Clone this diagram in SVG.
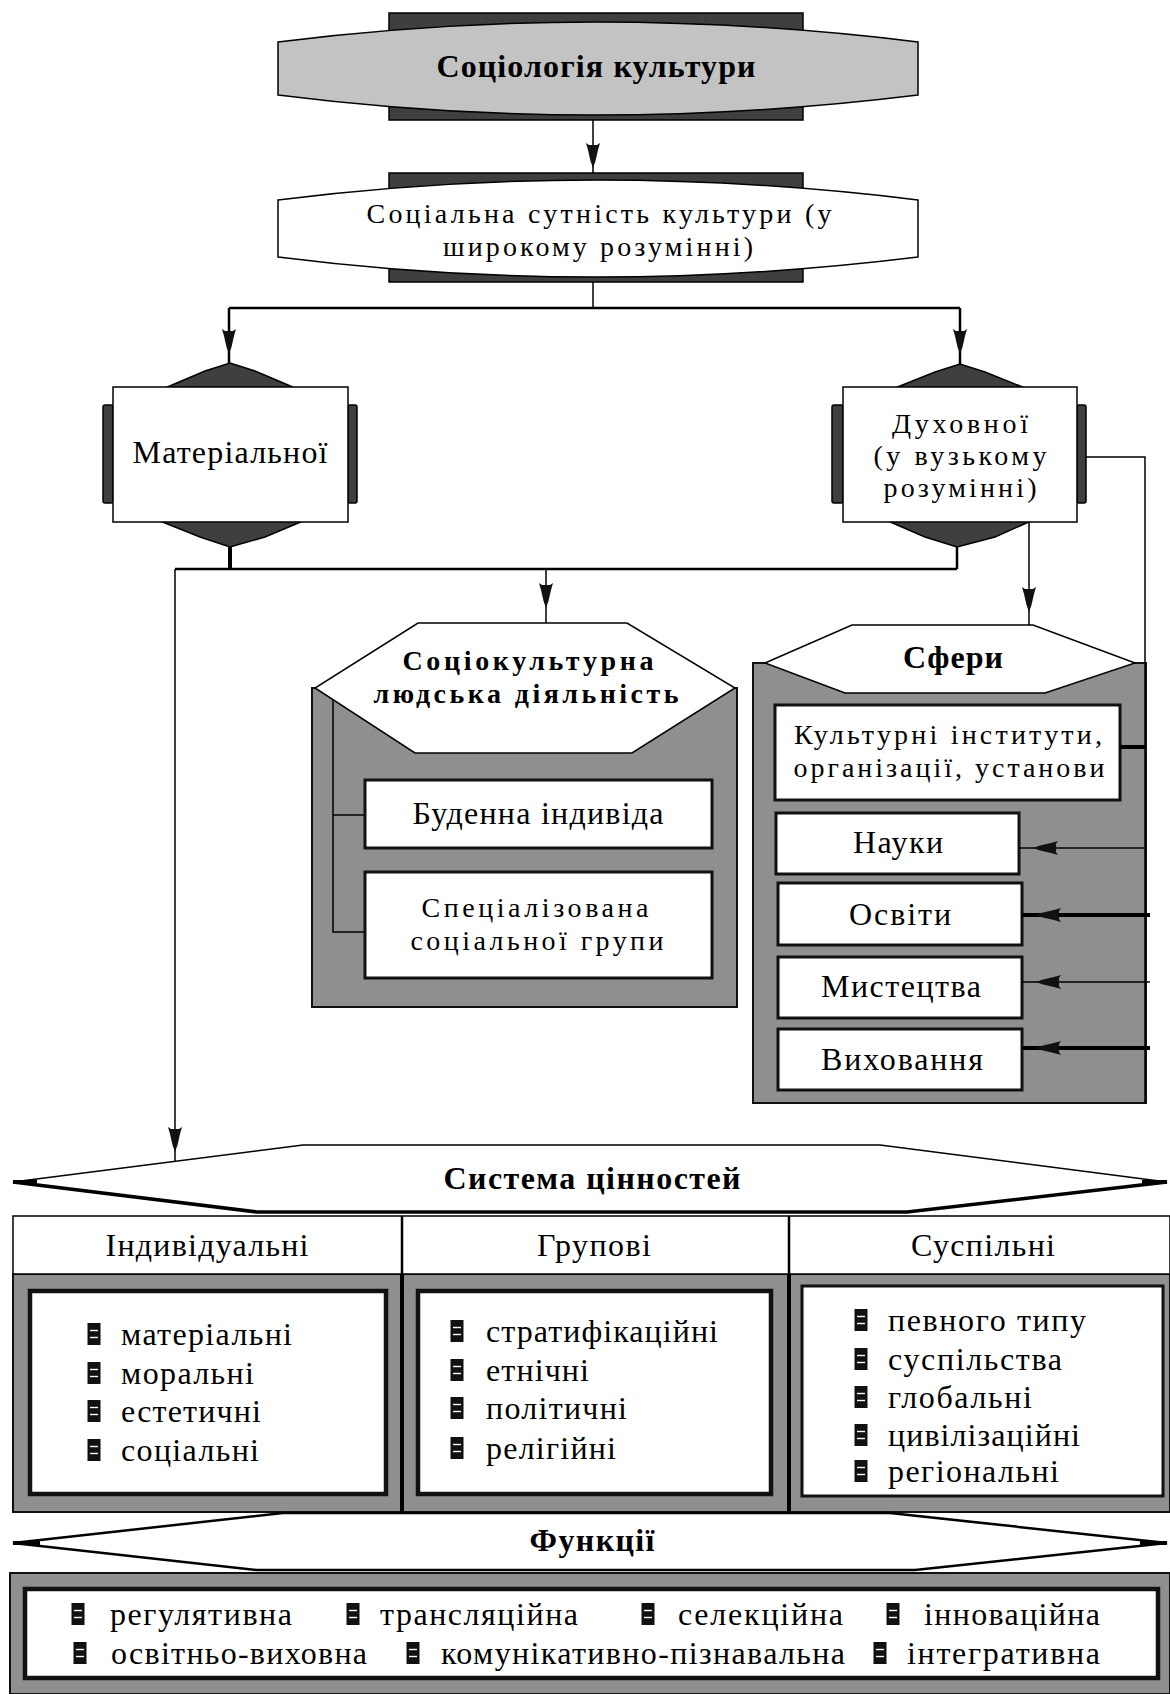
<svg xmlns="http://www.w3.org/2000/svg" width="1170" height="1694" viewBox="0 0 1170 1694">
<defs>
<style>
text { font-family: "Liberation Serif", "Times New Roman", serif; font-size: 32px; fill: #000; }
.m { font-size: 28px; }
.b { font-weight: bold; }
.c { text-anchor: middle; }
.dark { fill: #3f3f3f; stroke: #000; stroke-width: 1.5; }
.gray { fill: #8f8f8f; stroke: #111; stroke-width: 2; }
.white { fill: #fff; stroke: #000; stroke-width: 1.5; }
.box3 { fill: #fff; stroke: #111; stroke-width: 3; }
.box4 { fill: #fff; stroke: #111; stroke-width: 4.5; }
.ln { fill: none; stroke: #000; stroke-width: 1.5; }
.ln2 { fill: none; stroke: #000; stroke-width: 2.5; }
.ln4 { fill: none; stroke: #000; stroke-width: 4; }
</style>
<path id="ah" d="M0,0 L-2.5,-7 L-5,-18 L-7,-25 L-4,-23 L4,-23 L7,-25 L5,-18 L2.5,-7 Z" fill="#111"/>
<g id="bul"><rect x="-6.5" y="-11" width="13" height="22" fill="#111"/><line x1="-4" y1="-3.5" x2="4" y2="-3.5" stroke="#fff" stroke-width="1.4"/><line x1="-4" y1="3.5" x2="4" y2="3.5" stroke="#fff" stroke-width="1.4"/></g>
</defs>
<rect x="0" y="0" width="1170" height="1694" fill="#fff"/>

<g id="n-sociology">
<rect class="dark" x="389" y="13" width="414" height="107"/>
<path d="M278,42 Q593,2 918,42 L918,95 Q593,135 278,95 Z" fill="#c3c3c3" stroke="#000" stroke-width="1.5"/>
<text class="c b" x="596" y="77" textLength="319">Соціологія культури</text>
</g>

<g id="n-essence">
<rect class="dark" x="389" y="173" width="414" height="109"/>
<path class="white" d="M278,200 Q593,160 918,200 L918,257 Q593,297 278,257 Z"/>
<text class="c m" x="599" y="223" textLength="465">Соціальна сутність культури (у</text>
<text class="c m" x="598" y="256" textLength="310">широкому розумінні)</text>
</g>

<g id="n-material">
<polygon class="dark" points="165,388 205,371 230,363 255,371 295,388"/>
<polygon class="dark" points="160,521 200,537 230,547 265,537 303,521"/>
<rect class="dark" x="103" y="405" width="10" height="98" rx="2"/>
<rect class="dark" x="348" y="405" width="9" height="98" rx="2"/>
<rect class="white" x="113" y="387" width="235" height="135"/>
<text class="c" x="230" y="463" textLength="195">Матеріальної</text>
</g>

<g id="n-spiritual">
<polygon class="dark" points="895,388 935,372 960,364 985,372 1025,388"/>
<polygon class="dark" points="888,521 925,537 957,547 995,537 1031,521"/>
<rect class="dark" x="832" y="405" width="11" height="98" rx="2"/>
<rect class="dark" x="1077" y="405" width="9" height="98" rx="2"/>
<rect class="white" x="843" y="387" width="234" height="135"/>
<text class="c m" x="960" y="433" textLength="136">Духовної</text>
<text class="c m" x="960" y="465" textLength="173">(у вузькому</text>
<text class="c m" x="960" y="497" textLength="153">розумінні)</text>
</g>

<g id="n-activity">
<rect class="gray" x="312" y="688" width="425" height="319"/>
<polygon class="white" points="418,623 627,623 735,688 632,753 415,753 315,688"/>
<text class="c b m" x="528" y="670" textLength="251">Соціокультурна</text>
<text class="c b m" x="526" y="703" textLength="305">людська діяльність</text>
<path class="ln" d="M333,700 V932 H365 M333,815 H365"/>
<rect class="box3" x="365" y="780" width="347" height="68"/>
<text class="c" x="538" y="824" textLength="251">Буденна індивіда</text>
<rect class="box3" x="365" y="872" width="347" height="106"/>
<text class="c m" x="535" y="917" textLength="227">Спеціалізована</text>
<text class="c m" x="537" y="950" textLength="253">соціальної групи</text>
</g>

<g id="n-spheres">
<rect class="gray" x="753" y="663" width="393" height="440"/>
<polygon class="white" points="852,625 1033,625 1135,663 1045,693 845,693 765,663"/>
<text class="c b" x="953" y="668" textLength="100">Сфери</text>
<rect class="box3" x="775" y="705" width="345" height="95"/>
<text class="c m" x="948" y="744" textLength="308">Культурні інститути,</text>
<text class="c m" x="949" y="777" textLength="311">організації, установи</text>
<rect class="box3" x="776" y="813" width="243" height="61"/>
<text class="c" x="898" y="853" textLength="90">Науки</text>
<rect class="box3" x="778" y="883" width="244" height="62"/>
<text class="c" x="900" y="925" textLength="102">Освіти</text>
<rect class="box3" x="778" y="957" width="244" height="61"/>
<text class="c" x="901" y="997" textLength="160">Мистецтва</text>
<rect class="box3" x="778" y="1029" width="244" height="61"/>
<text class="c" x="902" y="1070" textLength="162">Виховання</text>
</g>

<g id="n-values">
<polygon class="white" points="13,1182 303,1145 880,1145 1167,1182 907,1212 257,1212"/>
<polyline fill="none" stroke="#000" stroke-width="3.5" points="13,1182 257,1212 907,1212 1167,1182"/>
<path class="ln4" d="M13,1182 H37 M1142,1182 H1167"/>
<text class="c b" x="592" y="1189" textLength="297">Система цінностей</text>
</g>

<g id="n-table">
<rect class="gray" x="13" y="1274" width="1157" height="238"/>
<rect class="white" x="13" y="1216" width="1157" height="58"/>
<path class="ln2" d="M402,1216 V1512 M789,1216 V1512"/>
<path class="ln4" d="M402,1274 V1512 M789,1274 V1512"/>
<text class="c" x="207" y="1256" textLength="203">Індивідуальні</text>
<text class="c" x="594" y="1256" textLength="114">Групові</text>
<text class="c" x="983" y="1256" textLength="144">Суспільні</text>
<rect class="box4" x="30" y="1291" width="356" height="203"/>
<rect class="box4" x="418" y="1291" width="353" height="203"/>
<rect class="box3" x="802" y="1286" width="361" height="210"/>
</g>

<g id="n-individual">
<use href="#bul" x="94" y="1334"/><text x="121" y="1345" textLength="171">матеріальні</text>
<use href="#bul" x="94" y="1373"/><text x="121" y="1384" textLength="133">моральні</text>
<use href="#bul" x="94" y="1411"/><text x="121" y="1422" textLength="140">естетичні</text>
<use href="#bul" x="94" y="1450"/><text x="121" y="1461" textLength="138">соціальні</text>
</g>

<g id="n-group">
<use href="#bul" x="457" y="1331"/><text x="486" y="1342" textLength="232">стратифікаційні</text>
<use href="#bul" x="457" y="1370"/><text x="486" y="1381" textLength="103">етнічні</text>
<use href="#bul" x="457" y="1408"/><text x="486" y="1419" textLength="141">політичні</text>
<use href="#bul" x="457" y="1448"/><text x="486" y="1459" textLength="130">релігійні</text>
</g>

<g id="n-social">
<use href="#bul" x="861" y="1320"/><text x="888" y="1331" textLength="198">певного типу</text>
<use href="#bul" x="861" y="1359"/><text x="888" y="1370" textLength="174">суспільства</text>
<use href="#bul" x="861" y="1397"/><text x="888" y="1408" textLength="144">глобальні</text>
<use href="#bul" x="861" y="1435"/><text x="888" y="1446" textLength="192">цивілізаційні</text>
<use href="#bul" x="861" y="1471"/><text x="888" y="1482" textLength="171">регіональні</text>
</g>

<g id="n-functions-title">
<polygon fill="#fff" stroke="#000" stroke-width="2.5" points="13,1543 283,1513 890,1513 1167,1543 915,1570 257,1570"/>
<path class="ln4" d="M13,1543 H40 M1140,1543 H1167"/>
<text class="c b" x="592" y="1551" textLength="125">Функції</text>
</g>

<g id="n-functions">
<rect class="gray" x="10" y="1573" width="1160" height="121"/>
<rect class="box4" x="25" y="1589" width="1133" height="89"/>
<use href="#bul" x="78" y="1614"/><text x="110" y="1625" textLength="182">регулятивна</text>
<use href="#bul" x="353" y="1614"/><text x="380" y="1625" textLength="198">трансляційна</text>
<use href="#bul" x="648" y="1614"/><text x="678" y="1625" textLength="165">селекційна</text>
<use href="#bul" x="893" y="1614"/><text x="924" y="1625" textLength="176">інноваційна</text>
<use href="#bul" x="80" y="1653"/><text x="111" y="1664" textLength="256">освітньо-виховна</text>
<use href="#bul" x="413" y="1653"/><text x="441" y="1664" textLength="404">комунікативно-пізнавальна</text>
<use href="#bul" x="880" y="1653"/><text x="907" y="1664" textLength="193">інтегративна</text>
</g>

<g id="connectors">
<path class="ln" d="M593,120 V173"/>
<use href="#ah" transform="translate(593,168)"/>
<path class="ln" d="M593,282 V308"/>
<path class="ln2" d="M229,308 H960"/>
<path class="ln2" d="M229,308 V364"/>
<path class="ln2" d="M960,308 V365"/>
<use href="#ah" transform="translate(229,354)"/>
<use href="#ah" transform="translate(960,354)"/>
<path class="ln4" d="M230,547 V569"/>
<path class="ln2" d="M957,547 V569"/>
<path class="ln2" d="M175,569 H957"/>
<path class="ln" d="M175,569 V1162"/>
<use href="#ah" transform="translate(175,1152)"/>
<path class="ln" d="M546,569 V623"/>
<use href="#ah" transform="translate(546,608)"/>
<path class="ln" d="M1029,522 V625"/>
<use href="#ah" transform="translate(1029,612)"/>
<path class="ln" d="M1086,457 H1145 V1103"/>
<path class="ln4" d="M1120,747 H1145"/>
<path class="ln" d="M1145,848 H1019"/>
<use href="#ah" transform="translate(1033,848) rotate(90)"/>
<path class="ln4" d="M1150,915 H1022"/>
<use href="#ah" transform="translate(1036,915) rotate(90)"/>
<path class="ln" d="M1150,982 H1022"/>
<use href="#ah" transform="translate(1036,982) rotate(90)"/>
<path class="ln4" d="M1150,1048 H1022"/>
<use href="#ah" transform="translate(1036,1048) rotate(90)"/>
</g>
</svg>
